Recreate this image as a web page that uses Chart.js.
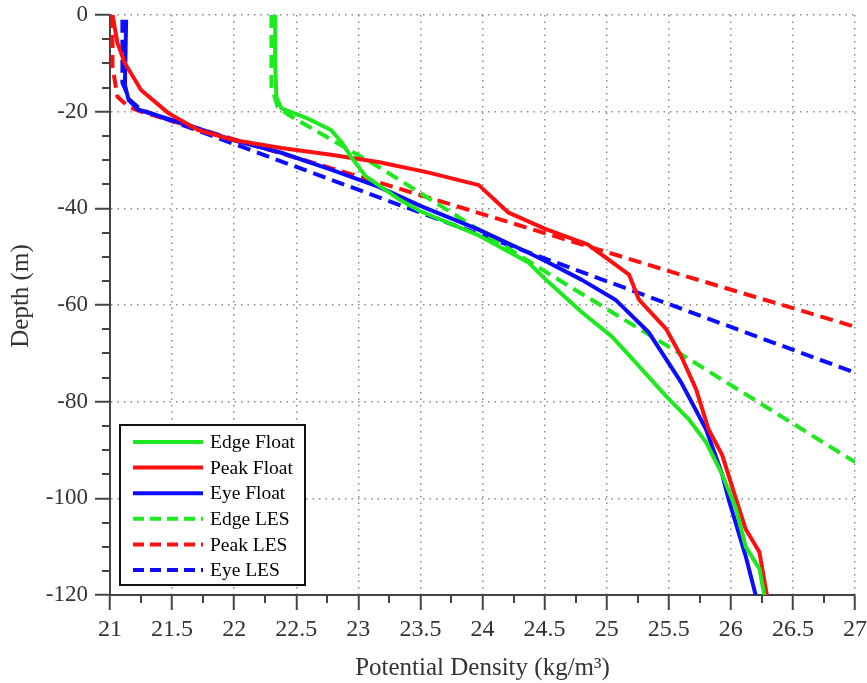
<!DOCTYPE html>
<html><head><meta charset="utf-8">
<script src="https://cdn.jsdelivr.net/npm/chart.js@4.4.0/dist/chart.umd.min.js"></script>
<style>html,body{margin:0;padding:0;background:#fff;overflow:hidden}canvas{display:block}</style>
</head><body>
<canvas id="c" width="867" height="683"></canvas>
<script>
const seriesNames = ['Edge Float','Peak Float','Eye Float','Edge LES','Peak LES','Eye LES'];

const edgeFloatDensity = [22.33,22.33,22.34,22.38,22.6,22.78,22.87,22.94,23.06,23.32,23.5,23.97,24.37,24.52,24.8,25.04,25.22,25.48,25.66,25.8,25.93,26.04,26.12,26.23,26.27];
const edgeFloatDepth   = [0,-10,-17,-19.3,-21.5,-23.8,-26.5,-29.3,-33.4,-38,-40.6,-45.6,-51.2,-55,-61.5,-66.5,-71.5,-78.9,-83.6,-88.4,-95,-102,-110,-114.6,-120];

const peakFloatDensity = [21.02,21.06,21.12,21.25,21.47,21.71,21.98,22.38,22.78,23.16,23.55,23.97,24.21,24.5,24.85,25.18,25.26,25.48,25.6,25.72,25.82,25.93,26.04,26.12,26.23,26.29];
const peakFloatDepth   = [0,-5.8,-10,-15.5,-20.3,-23.8,-25.8,-27.5,-28.9,-30.4,-32.5,-35.2,-40.9,-44.2,-47.5,-53.7,-58.9,-65,-70.6,-77.4,-85.7,-91,-100,-106.4,-111.1,-120];

const eyeFloatDensity = [21.13,21.12,21.15,21.23,21.57,21.98,22.38,22.78,23.16,23.5,23.97,24.37,24.53,24.8,25.07,25.34,25.6,25.8,25.93,25.98,26.05,26.12,26.2];
const eyeFloatDepth   = [-1,-14.5,-17.6,-19.6,-22.3,-25.8,-28.5,-32,-35.5,-39.5,-44.4,-49.2,-51.2,-54.8,-58.9,-65.7,-76,-85.7,-95,-100,-106,-112,-120];

const edgeLesDensity = [22.3,22.3,22.35,22.44,23.2,24.5,25.6,27];
const edgeLesDepth   = [0,-14.8,-19,-20.7,-32,-53,-70.2,-92.5];

const peakLesDensity = [21.02,21.02,21.06,21.15,21.25,23.16,25.58,27];
const peakLesDepth   = [0,-10.7,-16.9,-19,-20,-34.6,-53.6,-64.5];

const eyeLesDensity = [21.1,21.1,21.16,21.25,27];
const eyeLesDepth   = [-1,-14,-17.6,-19.6,-74];

const densityTicks = [21,21.5,22,22.5,23,23.5,24,24.5,25,25.5,26,26.5,27];
const depthTicks = [0,-20,-40,-60,-80,-100,-120];
const densityMinorTicks = [21.25,21.75,22.25,22.75,23.25,23.75,24.25,24.75,25.25,25.75,26.25,26.75];
const depthMinorTicks = [-5,-10,-15,-25,-30,-35,-45,-50,-55,-65,-70,-75,-85,-90,-95,-105,-110,-115];

const GREEN = '#1ee81e', RED = '#ff1010', BLUE = '#0c0cff';
const FONT = "'Liberation Serif', 'Times New Roman', serif";

function pts(xs, ys) { return xs.map((x, i) => ({x: x, y: ys[i]})); }
function ds(label, xs, ys, color, dashed) {
  return {
    label: label, data: pts(xs, ys), borderColor: color, backgroundColor: color,
    borderWidth: 4, pointRadius: 0, tension: 0, fill: false,
    borderDash: dashed ? [13, 7] : [], borderJoinStyle: 'round', borderCapStyle: 'butt'
  };
}

const extrasPlugin = {
  id: 'extras',
  afterDraw(chart) {
    const ctx = chart.ctx, xs = chart.scales.x, ys = chart.scales.y;
    ctx.save();
    // minor ticks
    ctx.strokeStyle = '#444'; ctx.lineWidth = 2; ctx.setLineDash([]);
    ctx.beginPath();
    densityMinorTicks.forEach(v => {
      const px = Math.round(xs.getPixelForValue(v));
      ctx.moveTo(px, ys.bottom); ctx.lineTo(px, ys.bottom + 8);
    });
    depthMinorTicks.forEach(v => {
      const py = Math.round(ys.getPixelForValue(v));
      ctx.moveTo(xs.left - 8, py); ctx.lineTo(xs.left, py);
    });
    ctx.stroke();
    // y axis title
    ctx.save();
    ctx.translate(21, 296);
    ctx.rotate(-Math.PI / 2);
    ctx.fillStyle = '#333'; ctx.font = '25px ' + FONT;
    ctx.textAlign = 'center'; ctx.textBaseline = 'middle';
    ctx.fillText('Depth (m)', 0, 0);
    ctx.restore();
    // legend box
    const bx = 120, by = 425, bw = 185, bh = 160;
    ctx.fillStyle = '#fff';
    ctx.fillRect(bx, by, bw, bh);
    ctx.strokeStyle = '#111'; ctx.lineWidth = 2;
    ctx.strokeRect(bx, by, bw, bh);
    chart.data.datasets.forEach((d, i) => {
      const y = 442 + i * 25.6;
      ctx.beginPath();
      ctx.strokeStyle = d.borderColor; ctx.lineWidth = 4;
      ctx.setLineDash(d.borderDash.length ? [11, 6] : []);
      ctx.moveTo(133, y); ctx.lineTo(203, y); ctx.stroke();
      ctx.setLineDash([]);
      ctx.fillStyle = '#000';
      ctx.font = '19.5px ' + FONT;
      ctx.textBaseline = 'middle'; ctx.textAlign = 'left';
      ctx.fillText(d.label, 210, y + 1);
    });
    ctx.restore();
  }
};

new Chart(document.getElementById('c'), {
  type: 'line',
  data: {
    datasets: [
      ds(seriesNames[0], edgeFloatDensity, edgeFloatDepth, GREEN, false),
      ds(seriesNames[1], peakFloatDensity, peakFloatDepth, RED, false),
      ds(seriesNames[2], eyeFloatDensity, eyeFloatDepth, BLUE, false),
      ds(seriesNames[3], edgeLesDensity, edgeLesDepth, GREEN, true),
      ds(seriesNames[4], peakLesDensity, peakLesDepth, RED, true),
      ds(seriesNames[5], eyeLesDensity, eyeLesDepth, BLUE, true)
    ]
  },
  options: {
    responsive: false, animation: false, devicePixelRatio: 1,
    layout: { padding: { left: 0, top: 15, right: 12, bottom: 0 } },
    plugins: { legend: { display: false }, tooltip: { enabled: false } },
    scales: {
      x: {
        type: 'linear', min: 21, max: 27,
        afterBuildTicks(s) { s.ticks = densityTicks.map(v => ({value: v})); },
        afterFit(s) { s.height = 88; s.paddingLeft = 0; s.paddingRight = 0; },
        ticks: { color: '#333', font: { family: FONT, size: 24 }, padding: 5, maxRotation: 0, autoSkip: false,
                 callback: v => String(v) },
        grid: { color: '#8a8a8a', lineWidth: 1.5, drawTicks: true, tickLength: 15,
                tickColor: '#444', tickWidth: 2, tickBorderDash: [] },
        border: { display: true, color: '#444', width: 2, dash: [1.5, 5] },
        title: { display: true, text: 'Potential Density (kg/m\u00b3)', color: '#333',
                 font: { family: FONT, size: 25 }, padding: { top: 2, bottom: 0 } }
      },
      y: {
        type: 'linear', min: -120, max: 0,
        afterBuildTicks(s) { s.ticks = depthTicks.map(v => ({value: v})); },
        afterFit(s) { s.width = 110; s.paddingTop = 0; s.paddingBottom = 0; },
        ticks: { color: '#333', font: { family: FONT, size: 23 }, padding: 7, autoSkip: false,
                 callback: v => String(v) },
        grid: { color: '#8a8a8a', lineWidth: 1.5, drawTicks: true, tickLength: 15,
                tickColor: '#444', tickWidth: 2, tickBorderDash: [] },
        border: { display: true, color: '#444', width: 2, dash: [1.5, 5] },
        title: { display: false }
      }
    }
  },
  plugins: [extrasPlugin]
});
</script>
</body></html>
